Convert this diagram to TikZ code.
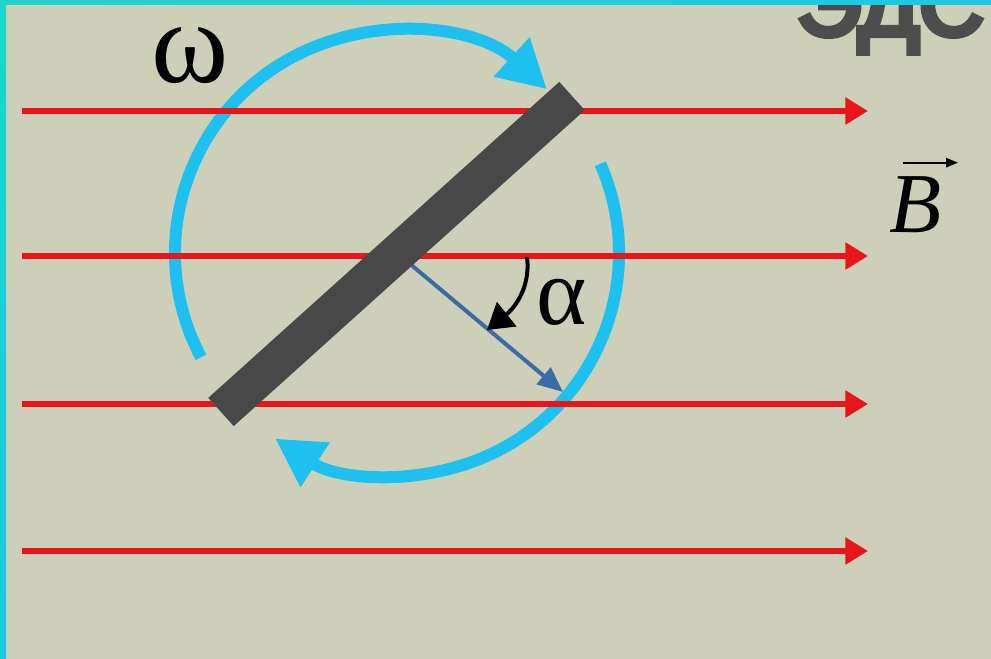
\documentclass[tikz,border=0pt]{standalone}
\usepackage{fontspec}
\setmainfont{Liberation Serif}
\newfontfamily\sansheavy{Liberation Sans}[FakeBold=7]
\usetikzlibrary{arrows.meta,calc}
\definecolor{bgc}{RGB}{205,207,185}
\definecolor{cyanarc}{RGB}{30,192,240}
\definecolor{fieldred}{RGB}{232,22,26}
\definecolor{barc}{RGB}{72,72,72}
\definecolor{normalc}{RGB}{58,108,165}
\definecolor{textgrey}{RGB}{77,77,77}
\definecolor{edgeteal}{RGB}{28,214,204}
\definecolor{edgecyan}{RGB}{28,200,228}
\tikzset{
  fieldline/.style={fieldred, line width=4.5pt, -{Triangle[length=17pt,width=19.5pt]}},
  rotarc/.style={cyanarc, line width=9pt, -{Triangle[length=36pt,width=37.5pt]}},
  normalvec/.style={normalc, line width=3pt, -{Triangle[length=19pt,width=16pt]}},
  anglearrow/.style={black, line width=3pt, -{Triangle[length=19pt,width=23pt]}},
  rodbar/.style={barc, line width=28.5pt},
  label/.style={inner sep=0pt, text=black},
}
\begin{document}
\begin{tikzpicture}[x=0.75pt,y=-0.75pt]
\useasboundingbox (0,0) rectangle (991,659);
\clip (0,0) rectangle (991,659);
\fill[bgc] (0,0) rectangle (991,659);

% title fragment
\node[anchor=base west, inner sep=0pt, text=textgrey,
      font=\sansheavy\fontsize{67}{67}\selectfont] (emf) at (797,35) {ЭДС};

\coordinate (O) at (397,253);

% rotation arcs
\draw[rotarc] ($(O)+(152:222)$) arc[start angle=152, end angle=312.5, radius=222];
\draw[rotarc] ($(O)+(-23.7:222)$) arc[start angle=-23.7, end angle=123.3, radius=222];

% field lines
\foreach \yy/\nm in {111/f1,256/f2,404/f3,551/f4}{
  \coordinate (\nm s) at (22,\yy);
  \coordinate (\nm e) at (868,\yy);
  \draw[fieldline] (\nm s) -- (\nm e);
}

% normal vector
\coordinate (N) at (563,392);
\draw[normalvec] (O) -- (N);

% rod
\coordinate (RA) at (221,412);
\coordinate (RB) at (572,96);
\draw[rodbar] (RA) -- (RB);

% angle arrow
\coordinate (A1) at (527,257);
\coordinate (A2) at (487,330);
\draw[anglearrow] (A1) .. controls (531,290) and (512,310) .. (A2);

% labels
\node[label, font=\fontsize{88}{88}\selectfont] (omega) at (190,56) {ω};
\node[label, font=\fontsize{72}{72}\selectfont] (alpha) at (562,302) {α};
\node[label, font=\itshape\fontsize{64}{64}\selectfont] (B) at (916,205) {B};
\draw[black, line width=1.6pt, -{Triangle[length=9pt,width=7pt]}]
  ($(B.north)+(-13,-14)$) -- ($(B.north)+(42,-14)$);

% frame edges
\shade[left color=edgeteal, right color=edgecyan] (0,0) rectangle (991,5);
\shade[top color=edgeteal, bottom color=edgecyan] (0,0) rectangle (6,659);
\end{tikzpicture}
\end{document}
